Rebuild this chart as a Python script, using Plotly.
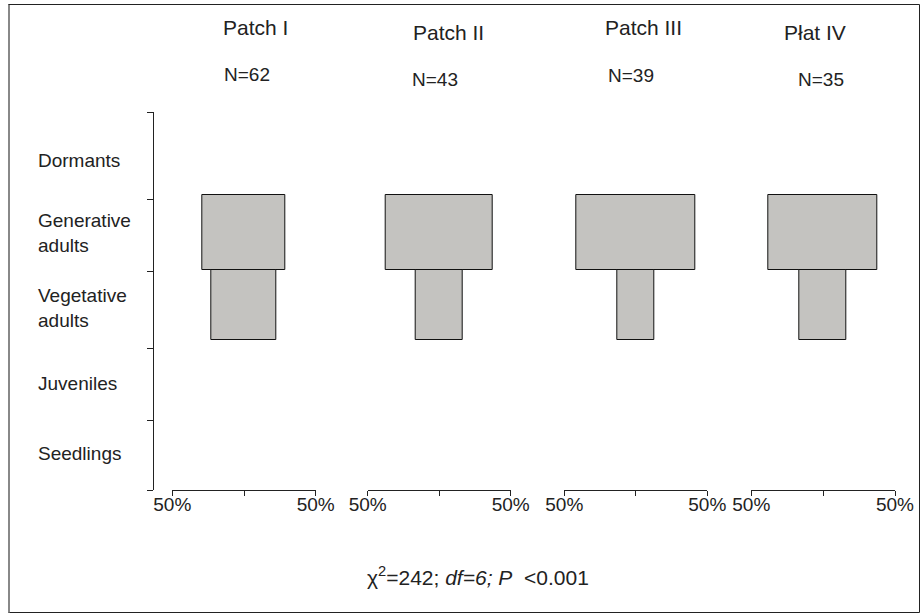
import plotly.graph_objects as go

# ---- data ----
patches = ["Patch I", "Patch II", "Patch III", "Płat IV"]
n_values = [62, 43, 39, 35]
stages = ["Dormants", "Generative<br>adults", "Vegetative<br>adults", "Juveniles", "Seedlings"]
# share of individuals (%) per stage in each patch (box width)
dormants_pct = [0, 0, 0, 0]
generative_pct = [57.8, 75.3, 83.3, 75.7]
vegetative_pct = [45.6, 33.3, 25.7, 32.6]
juveniles_pct = [0, 0, 0, 0]
seedlings_pct = [0, 0, 0, 0]
tick_values = [-50, 50]
tick_labels = ["50%", "50%"]
stats_text = "χ<sup>2</sup>=242; <i>df=6; P</i>  &lt;0.001"

# ---- layout geometry (pixels of a 921x614 canvas) ----
W, H = 921, 614
TOP, BOT = 112, 490
PPU = (BOT - TOP) / 5.0  # pixels per y unit


def yv(px):
    return (BOT - px) / PPU


def xp(px):
    return px / W


def ypp(px):
    return (BOT - px) / (BOT - TOP)


row_bounds_px = [490, 420, 348, 271, 199, 112]
row_label_px = [160, 233, 308, 383, 453]  # Dormants..Seedlings
bar_rows = {  # stage index -> (top px, bottom px)
    1: (195, 270),
    2: (270, 340),
}
stage_values = [dormants_pct, generative_pct, vegetative_pct, juveniles_pct, seedlings_pct]

x_domains_px = [(172.3, 315.7), (367.7, 510.7), (564.3, 707.3), (751.3, 895.0)]
title_pos = [(255, 28), (448, 33), (643, 28), (815, 33)]
n_pos = [(247, 74), (435, 79), (631, 75), (821, 79)]

FONT = "Liberation Sans, Arial, sans-serif"
TXT = "#222222"
FILL = "#c4c3c0"

fig = go.Figure()

for i, p in enumerate(patches):
    xa = "x" if i == 0 else f"x{i+1}"
    for si, vals in enumerate(stage_values):
        if si not in bar_rows or vals[i] <= 0:
            continue
        t, b = bar_rows[si]
        fig.add_trace(go.Bar(
            orientation="h",
            x=[vals[i]],
            base=[-vals[i] / 2.0],
            y=[(yv(t) + yv(b)) / 2.0],
            width=[yv(t) - yv(b)],
            marker=dict(color=FILL, line=dict(color="#111111", width=1)),
            xaxis=xa, yaxis="y",
            showlegend=False, hoverinfo="skip",
        ))

layout = dict(
    template="none",
    width=W, height=H,
    margin=dict(l=0, r=0, t=TOP, b=H - BOT, pad=0, autoexpand=False),
    paper_bgcolor="white", plot_bgcolor="white",
    font=dict(family=FONT, color=TXT, size=19),
    bargap=0,
    showlegend=False,
    yaxis=dict(
        range=[0, 5], anchor="free", position=xp(152.7), automargin=False,
        showgrid=False, zeroline=False, showticklabels=False,
        tickmode="array", tickvals=[yv(v) for v in row_bounds_px],
        ticks="outside", ticklen=6, tickcolor="#222", tickwidth=1,
        showline=True, linecolor="#222", linewidth=1,
    ),
)
for i, (a, b) in enumerate(x_domains_px):
    key = "xaxis" if i == 0 else f"xaxis{i+1}"
    layout[key] = dict(
        domain=[xp(a), xp(b)], range=[-50, 50], anchor="y", automargin=False,
        showgrid=False, zeroline=False,
        tickmode="array", tickvals=tick_values, ticktext=tick_labels,
        ticks="outside", ticklen=5, tickcolor="#222", tickwidth=1,
        ticklabelstandoff=-8,
        minor=dict(tickmode="array", tickvals=[0], ticks="outside", ticklen=5,
                   tickcolor="#222", tickwidth=1, showgrid=False),
        showline=True, linecolor="#222", linewidth=1,
        tickfont=dict(size=19, family=FONT, color=TXT),
    )
fig.update_layout(**layout)

ann = []
for i, p in enumerate(patches):
    tx, ty = title_pos[i]
    ann.append(dict(text=p, x=xp(tx), y=ypp(ty), xref="paper", yref="paper",
                    xanchor="center", yanchor="middle", showarrow=False,
                    font=dict(size=21, family=FONT, color=TXT)))
    nx, ny = n_pos[i]
    ann.append(dict(text=f"N={n_values[i]}", x=xp(nx), y=ypp(ny), xref="paper", yref="paper",
                    xanchor="center", yanchor="middle", showarrow=False,
                    font=dict(size=19, family=FONT, color=TXT)))
for si, s in enumerate(stages):
    ann.append(dict(text=s, x=xp(36), y=ypp(row_label_px[si]), xref="paper", yref="paper",
                    xanchor="left", yanchor="middle", align="left", showarrow=False,
                    font=dict(size=19, family=FONT, color=TXT)))
ann.append(dict(text=stats_text, x=xp(478), y=ypp(576), xref="paper", yref="paper",
                xanchor="center", yanchor="middle", showarrow=False,
                font=dict(size=21, family=FONT, color=TXT)))
fig.update_layout(annotations=ann)

# outer frame
fig.add_shape(type="rect", xref="paper", yref="paper",
              x0=xp(8.5), x1=xp(919.5), y0=ypp(612.5), y1=ypp(4.5),
              line=dict(color="#222", width=1), fillcolor="rgba(0,0,0,0)")
fig.add_shape(type="line", xref="paper", yref="paper",
              x0=xp(9), x1=xp(9), y0=ypp(612.5), y1=ypp(5),
              line=dict(color="#888", width=2))

fig.write_html(
    "out.html",
    config={"displayModeBar": False},
    post_script="document.body.style.margin='0';document.body.style.overflow='hidden';",
)
